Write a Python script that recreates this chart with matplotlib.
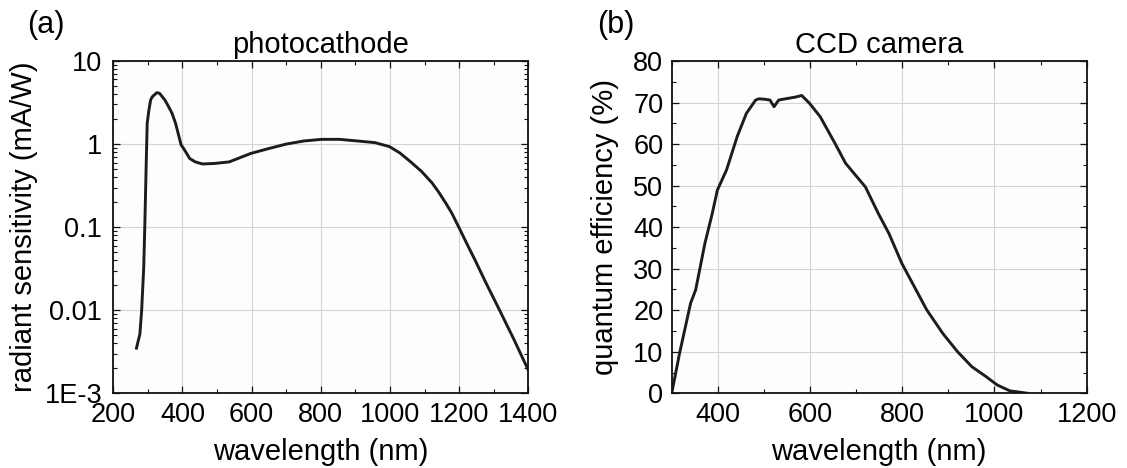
import numpy as np
import matplotlib
matplotlib.use("Agg")
import matplotlib.pyplot as plt
from matplotlib.ticker import MultipleLocator, LogLocator, FixedLocator, FuncFormatter

plt.rcParams['font.family'] = ['Liberation Sans', 'DejaVu Sans']

# (a) photocathode radiant sensitivity
pc_wl = [267, 277, 282, 288, 291, 295, 298, 303, 308, 313, 326, 334, 349, 360,
         370, 380, 385, 396, 406, 421, 437, 458, 494, 535, 597, 648, 700, 751,
         803, 854, 906, 957, 999, 1029, 1060, 1091, 1122, 1142, 1163, 1179,
         1199, 1225, 1245, 1276, 1317, 1359, 1400]
pc_sens = [0.0035, 0.0052, 0.010, 0.033, 0.10, 0.54, 1.78, 2.57, 3.4, 3.72,
           4.16, 4.07, 3.4, 2.82, 2.34, 1.78, 1.48, 0.98, 0.85, 0.67, 0.61,
           0.576, 0.585, 0.61, 0.77, 0.88, 1.0, 1.09, 1.14, 1.14, 1.09, 1.04,
           0.93, 0.78, 0.61, 0.47, 0.34, 0.26, 0.19, 0.147, 0.10, 0.060,
           0.041, 0.022, 0.010, 0.0044, 0.0019]

# (b) CCD camera quantum efficiency
ccd_wl = [300, 317, 341, 352, 372, 388, 399, 419, 442, 462, 482, 489, 501, 513,
          522, 532, 552, 568, 582, 599, 622, 642, 654, 677, 701, 720, 748, 771,
          799, 826, 853, 888, 920, 951, 982, 1006, 1033, 1072]
ccd_qe = [0, 9.6, 21.7, 24.9, 36.1, 43.3, 48.9, 53.8, 61.8, 67.4, 70.6, 70.9,
          70.8, 70.6, 69.0, 70.6, 71.0, 71.3, 71.7, 69.8, 66.6, 62.6, 60.2,
          55.4, 52.2, 49.7, 43.3, 38.5, 31.3, 25.7, 20.1, 14.4, 10.0, 6.4, 4.0,
          2.0, 0.6, 0.0]

log_labels = {10: '10', 1: '1', 0.1: '0.1', 0.01: '0.01', 0.001: '1E-3'}

fig = plt.figure(figsize=(11.27, 4.68), dpi=100)
W, H = 1127.0, 468.0
ax1 = fig.add_axes([113.3 / W, (H - 393.3) / H, 415 / W, 332.3 / H])
ax2 = fig.add_axes([671.7 / W, (H - 393.3) / H, 415 / W, 332.3 / H])

line_kw = dict(color='#1c1c1c', lw=2.1)
grid_kw = dict(color='#d4d4d4', lw=0.8)

ax1.plot(pc_wl, pc_sens, **line_kw)
ax1.set_yscale('log')
ax1.set_xlim(200, 1400)
ax1.set_ylim(1e-3, 10)
ax1.xaxis.set_major_locator(MultipleLocator(200))
ax1.xaxis.set_minor_locator(MultipleLocator(100))
ax1.yaxis.set_major_locator(FixedLocator([1e-3, 1e-2, 1e-1, 1, 10]))
ax1.yaxis.set_minor_locator(LogLocator(base=10, subs=np.arange(2, 10)))
ax1.yaxis.set_major_formatter(FuncFormatter(lambda v, p: log_labels.get(round(v, 3), '')))
ax1.set_title('photocathode', fontsize=21, pad=5.5)
ax1.set_xlabel('wavelength (nm)', fontsize=21)
ax1.set_ylabel('radiant sensitivity (mA/W)', fontsize=21)
ax1.yaxis.set_label_coords(-0.181, 0.5)
ax1.xaxis.set_label_coords(0.5, -0.134)

ax2.plot(ccd_wl, ccd_qe, **line_kw)
ax2.set_xlim(300, 1200)
ax2.set_ylim(0, 80)
ax2.xaxis.set_major_locator(FixedLocator([400, 600, 800, 1000, 1200]))
ax2.xaxis.set_minor_locator(MultipleLocator(100))
ax2.yaxis.set_major_locator(MultipleLocator(10))
ax2.yaxis.set_minor_locator(MultipleLocator(5))
ax2.set_title('CCD camera', fontsize=21, pad=5.5)
ax2.set_xlabel('wavelength (nm)', fontsize=21)
ax2.set_ylabel('quantum efficiency (%)', fontsize=21)
ax2.yaxis.set_label_coords(-0.127, 0.5)
ax2.xaxis.set_label_coords(0.5, -0.134)

for ax, ypad in ((ax1, 8), (ax2, 6)):
    ax.set_facecolor('#fdfdfd')
    ax.grid(True, which='major', **grid_kw)
    ax.set_axisbelow(True)
    ax.tick_params(which='both', direction='in', top=True, right=True,
                   labelsize=19.5, color='#111111')
    ax.tick_params(which='major', length=5, width=0.9)
    ax.tick_params(which='minor', length=3, width=0.8)
    ax.tick_params(axis='x', which='major', pad=6)
    ax.tick_params(axis='y', which='major', pad=ypad)
    for s in ax.spines.values():
        s.set_linewidth(1.3)
        s.set_color('#111111')

fig.text(27 / W, 1 - 10 / H, '(a)', fontsize=22, va='top', ha='left')
fig.text(597 / W, 1 - 10 / H, '(b)', fontsize=22, va='top', ha='left')

fig.savefig('out.png', dpi=100)
